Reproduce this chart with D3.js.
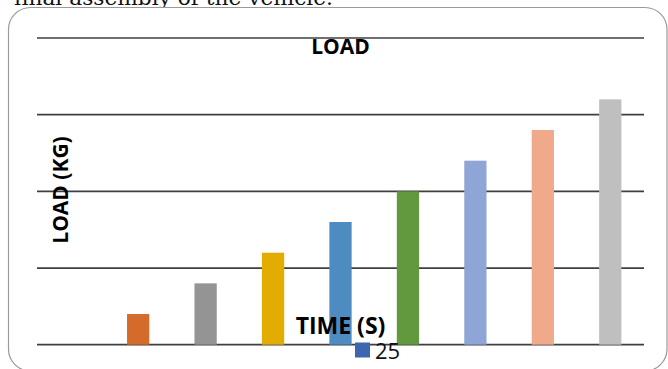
<!DOCTYPE html>
<html>
<head>
<meta charset="utf-8">
<script src="https://cdn.jsdelivr.net/npm/d3@7"></script>
<style>
  html, body { margin: 0; padding: 0; background: #fff; }
  svg { display: block; }
</style>
</head>
<body>
<div id="chart"></div>
<script>
// Data
const categories = ['1', '2', '3', '4', '5', '6', '7', '8', '9'];
const loads = [0, 4, 8, 12, 16, 20, 24, 28, 32];
const barColors = ['#3d66b0', '#d56b2b', '#949494', '#e2ac00', '#4e8bc0', '#62993e', '#8fa5d6', '#f0a98a', '#bfbfbf'];
const yTicks = [0, 10, 20, 30, 40];
const seriesName = '25';

const width = 668;
const height = 369;
const plot = { left: 37, right: 644, top: 38, bottom: 344.7 };
const font = '"Open Sans", "Noto Sans", sans-serif';

const svg = d3.select('#chart')
  .append('svg')
  .attr('width', width)
  .attr('height', height);

// Text above the chart (cut off by the page edge, as in the source)
svg.append('text')
  .attr('x', 14)
  .attr('y', 5)
  .attr('textLength', 319)
  .attr('lengthAdjust', 'spacingAndGlyphs')
  .attr('font-family', '"DejaVu Serif", serif')
  .attr('font-size', 20)
  .attr('fill', '#111')
  .text('final assembly of the vehicle.');

// Chart frame
svg.append('rect')
  .attr('x', 8.5)
  .attr('y', 7.5)
  .attr('width', 658.5)
  .attr('height', 363.5)
  .attr('rx', 22)
  .attr('fill', '#fff')
  .attr('stroke', '#9a9a9a')
  .attr('stroke-width', 1.2);

// Scales
const x = d3.scaleBand()
  .domain(categories)
  .range([plot.left, plot.right])
  .paddingInner(0.67)
  .paddingOuter(0.335);

const y = d3.scaleLinear()
  .domain([0, 40])
  .range([plot.bottom, plot.top]);

// Gridlines
svg.append('g')
  .selectAll('line')
  .data(yTicks)
  .enter()
  .append('line')
  .attr('x1', plot.left)
  .attr('x2', plot.right)
  .attr('y1', d => y(d))
  .attr('y2', d => y(d))
  .attr('stroke', '#3f3f3f')
  .attr('stroke-width', 1.7);

// Bars
svg.append('g')
  .selectAll('rect')
  .data(loads)
  .enter()
  .append('rect')
  .attr('x', (d, i) => x(categories[i]))
  .attr('y', d => y(d))
  .attr('width', x.bandwidth())
  .attr('height', d => y(0) - y(d))
  .attr('fill', (d, i) => barColors[i]);

// Title
svg.append('text')
  .attr('x', 340.5)
  .attr('y', 54)
  .attr('text-anchor', 'middle')
  .attr('font-family', font)
  .attr('font-weight', 'bold')
  .attr('font-size', 21)
  .attr('fill', '#000')
  .text('LOAD');

// Y axis title
svg.append('text')
  .attr('transform', 'translate(67.5,190) rotate(-90)')
  .attr('text-anchor', 'middle')
  .attr('font-family', font)
  .attr('font-weight', 'bold')
  .attr('font-size', 21)
  .attr('fill', '#000')
  .text('LOAD (KG)');

// X axis title
svg.append('text')
  .attr('x', 340.5)
  .attr('y', 334)
  .attr('text-anchor', 'middle')
  .attr('font-family', font)
  .attr('font-weight', 'bold')
  .attr('font-size', 23)
  .attr('fill', '#000')
  .text('TIME (S)');

// Legend
const legend = svg.append('g').attr('transform', 'translate(355,342.5)');
legend.append('rect')
  .attr('width', 15)
  .attr('height', 15)
  .attr('fill', barColors[0]);
legend.append('text')
  .attr('x', 20)
  .attr('y', 16)
  .attr('font-family', font)
  .attr('font-size', 22)
  .attr('fill', '#111')
  .text(seriesName);
</script>
</body>
</html>
